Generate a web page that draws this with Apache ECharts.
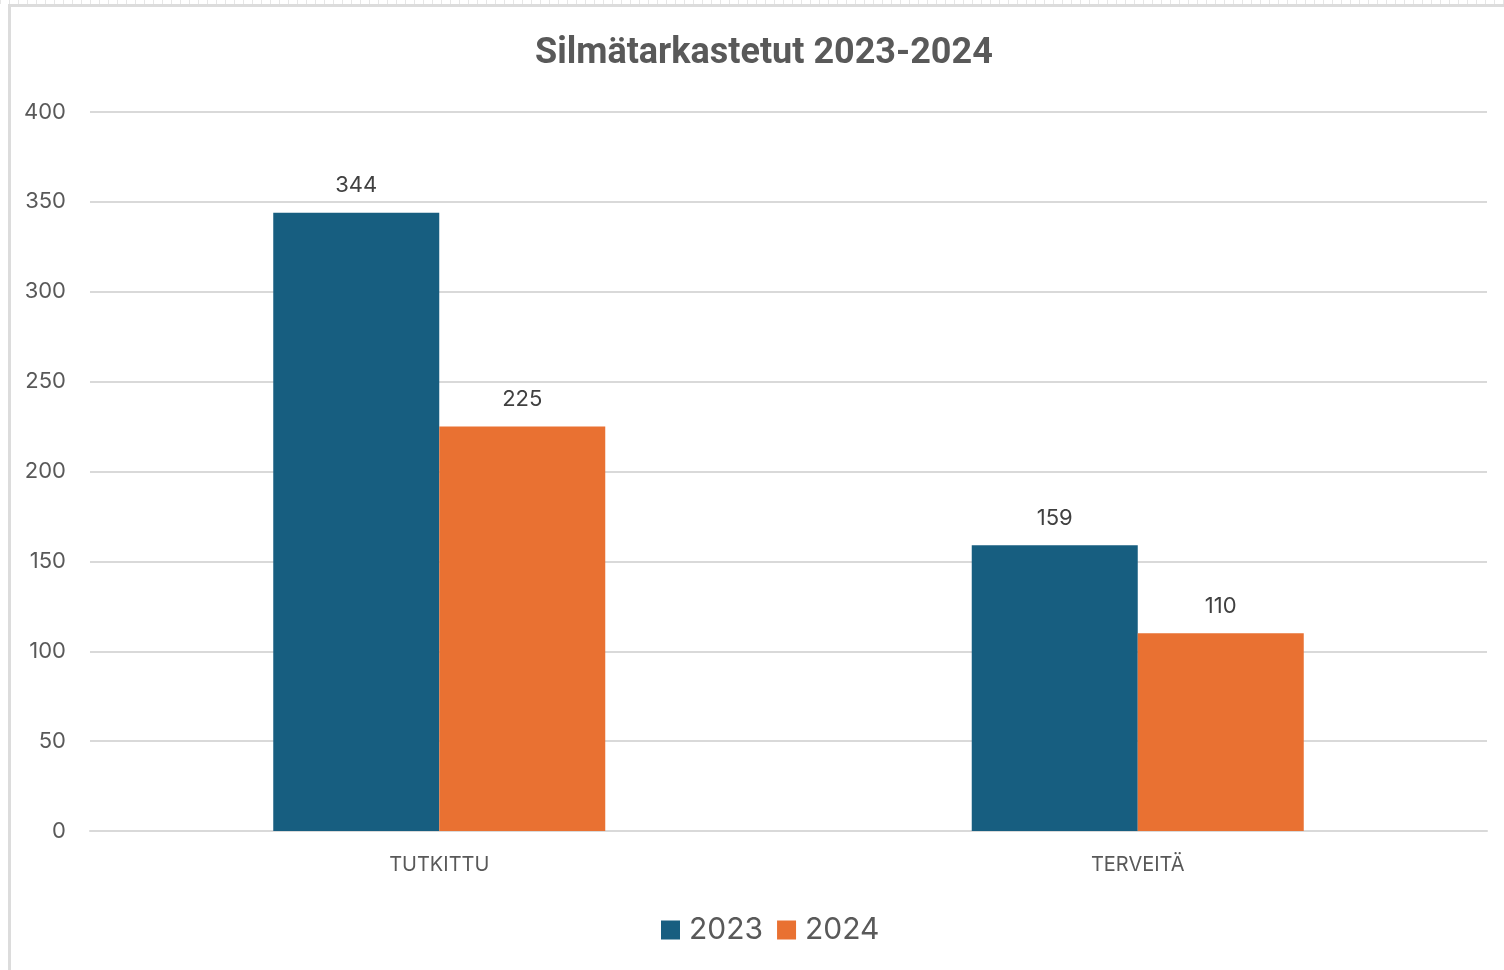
<!DOCTYPE html>
<html>
<head>
<meta charset="utf-8">
<script src="https://cdn.jsdelivr.net/npm/echarts@6/dist/echarts.min.js"></script>
<style>
  html, body { margin: 0; padding: 0; background: #fff; }
  #frameTop { position: absolute; left: 0; top: 0; width: 1504px; height: 4px;
    background: repeating-linear-gradient(90deg, #e6e6e6 0 1px, #fff 1px 9px); }
  #frameLine { position: absolute; left: 8px; top: 4px; width: 1496px; height: 966px;
    border-left: 3px solid #dcdcdc; border-top: 3px solid #dcdcdc; box-sizing: border-box; }
  #chart { position: absolute; left: 0; top: 0; width: 1504px; height: 970px; }
</style>
</head>
<body>
<div id="frameTop"></div>
<div id="frameLine"></div>
<div id="chart"></div>
<script>
  // data
  var categories = ['TUTKITTU', 'TERVEITÄ'];
  var years = ['2023', '2024'];
  var values2023 = [344, 159];
  var values2024 = [225, 110];
  var yTicks = { min: 0, max: 400, interval: 50 };

  var colors = ['#175E80', '#E97132'];

  var chart = echarts.init(document.getElementById('chart'));

  function barSeries(name, data, color) {
    return {
      name: name,
      type: 'bar',
      data: data,
      barWidth: 166,
      barGap: '0%',
      itemStyle: { color: color },
      label: {
        show: true,
        position: 'top',
        distance: 16,
        color: '#404040',
        fontSize: 22,
        fontFamily: 'Inter'
      }
    };
  }

  var option = {
    animation: false,
    backgroundColor: 'transparent',
    title: {
      text: 'Silmätarkastetut 2023-2024',
      left: 530,
      top: 31,
      textStyle: {
        fontFamily: 'Roboto',
        fontWeight: 'bold',
        fontSize: 36,
        color: '#595959'
      }
    },
    legend: {
      data: years,
      bottom: 20,
      left: 656,
      icon: 'rect',
      itemWidth: 19,
      itemHeight: 19,
      itemGap: 14,
      textStyle: { fontSize: 30, color: '#595959', fontFamily: 'Inter', padding: [0, 0, 0, 4] }
    },
    grid: { left: 90, right: 17, top: 112, bottom: 139 },
    xAxis: {
      type: 'category',
      data: categories,
      axisTick: { show: false },
      axisLine: { lineStyle: { color: '#d9d9d9', width: 2 } },
      axisLabel: { color: '#595959', fontSize: 20, margin: 24, fontFamily: 'Inter' }
    },
    yAxis: {
      type: 'value',
      min: yTicks.min,
      max: yTicks.max,
      interval: yTicks.interval,
      axisLine: { show: false },
      axisTick: { show: false },
      splitLine: { lineStyle: { color: '#d9d9d9', width: 2 } },
      axisLabel: { color: '#595959', fontSize: 22, margin: 24, fontFamily: 'Inter' }
    },
    series: [
      barSeries(years[0], values2023, colors[0]),
      barSeries(years[1], values2024, colors[1])
    ]
  };

  chart.setOption(option);
</script>
</body>
</html>
